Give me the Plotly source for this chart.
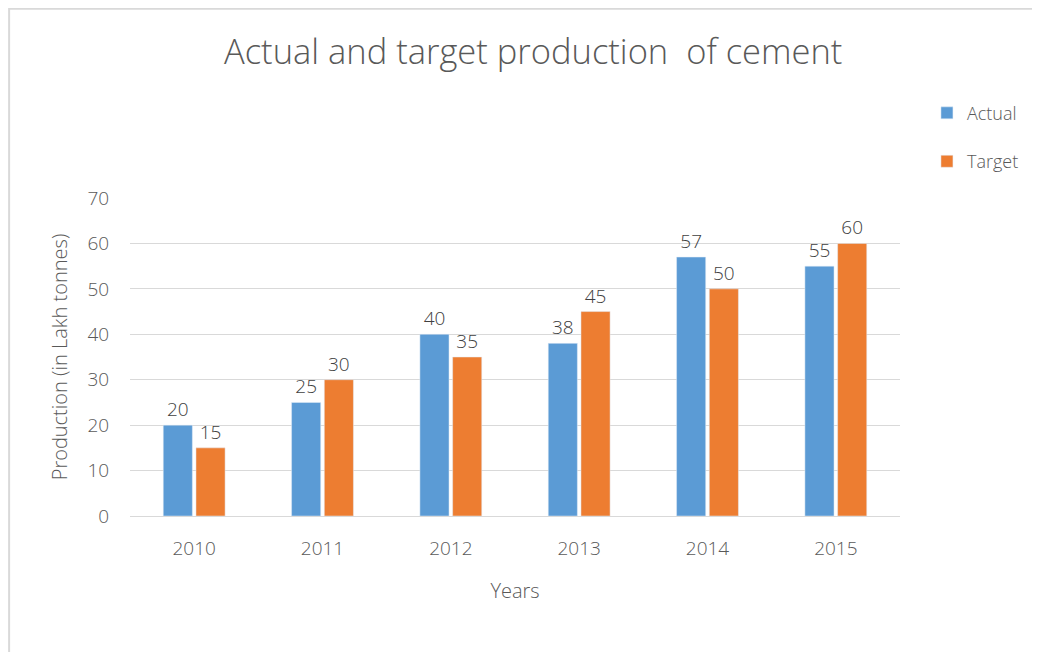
import plotly.graph_objects as go

# production of cement, in lakh tonnes
years = ["2010", "2011", "2012", "2013", "2014", "2015"]
actual = [20, 25, 40, 38, 57, 55]
target = [15, 30, 35, 45, 50, 60]

txt = "#595959"
fnt = "Open Sans"

fig = go.Figure()
fig.add_trace(go.Bar(x=years, y=actual, name="Actual", marker_color="#5B9BD5",
                     text=actual, textposition="outside", cliponaxis=False,
                     textfont=dict(size=19, color="#404040", weight=300), legendgroup="a"))
fig.add_trace(go.Bar(x=years, y=target, name="Target", marker_color="#ED7D31",
                     text=target, textposition="outside", cliponaxis=False,
                     textfont=dict(size=19, color="#404040", weight=300), legendgroup="t"))

fig.update_layout(
    width=1040, height=652,
    paper_bgcolor="white", plot_bgcolor="white",
    font=dict(family=fnt, color=txt, size=17, weight=300),
    margin=dict(l=122, r=148, t=190, b=144),
    barmode="group", bargap=0.49, bargroupgap=0.11,
    title=dict(text="Actual and target production  of cement", x=0.505, xanchor="center",
               y=0.932, yanchor="middle",
               font=dict(size=34.5, color=txt, family=fnt, weight=300)),
    legend=dict(x=1.035, y=1.325, xanchor="left", yanchor="top",
                font=dict(size=18, color=txt, weight=300), tracegroupgap=22, itemwidth=30),
)
fig.update_xaxes(showgrid=False, showline=True, linecolor="#d9d9d9", linewidth=1,
                 ticks="outside", ticklen=15, tickcolor="rgba(0,0,0,0)",
                 tickfont=dict(size=19, color=txt, weight=300),
                 title=dict(text="Years", font=dict(size=20, color=txt, weight=300), standoff=24))
fig.update_yaxes(range=[0, 70], dtick=10, showgrid=True, gridcolor="#d9d9d9",
                 zeroline=False, ticks="outside", ticklen=16, tickcolor="rgba(0,0,0,0)",
                 tickfont=dict(size=19, color=txt, weight=300),
                 title=dict(text="Production (in Lakh tonnes)",
                            font=dict(size=20, color=txt, weight=300), standoff=14))

# light chart border like the Excel chart area
fig.add_shape(type="rect", xref="paper", yref="paper", x0=-0.157, x1=1.3, y0=-0.5, y1=1.595,
              line=dict(color="#d9d9d9", width=2), fillcolor="rgba(0,0,0,0)", layer="below")

fig.write_html("out.html")
